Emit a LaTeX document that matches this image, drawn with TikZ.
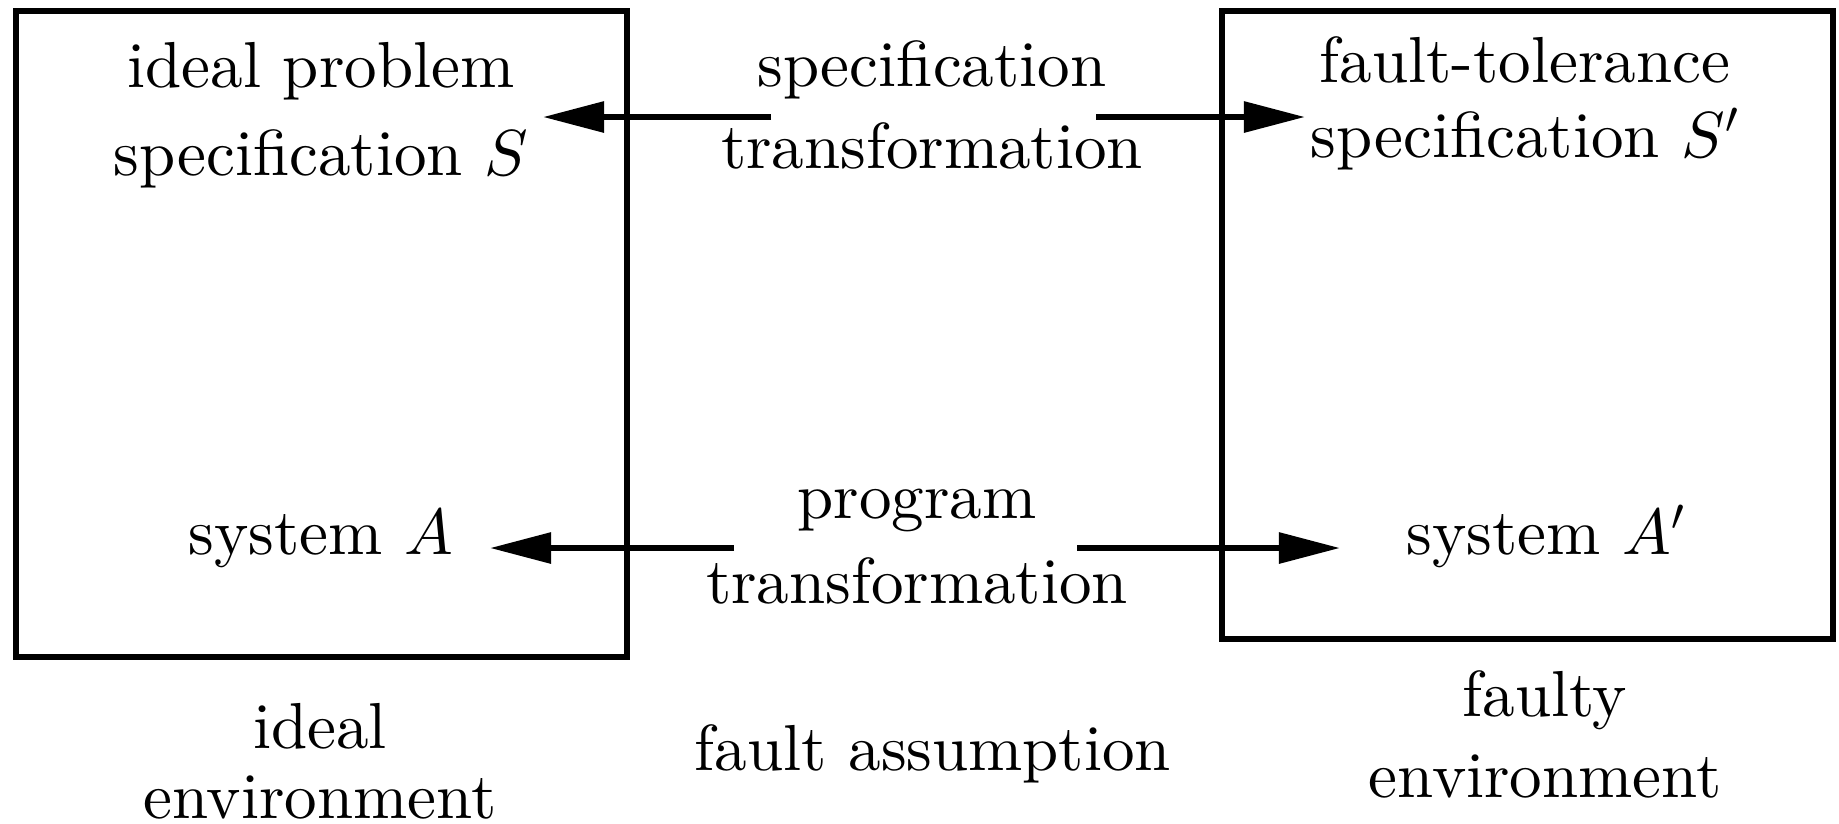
\documentclass[tikz,border=0pt]{standalone}
\usepackage{fontspec}
% 10pt design of Latin Modern, enlarged
\setmainfont{lmroman10-regular.otf}[ItalicFont=lmroman10-italic.otf]
\DeclareFontShape{OML}{cmm}{m}{it}{<->cmmi10}{}
\DeclareFontShape{OMS}{cmsy}{m}{n}{<->cmsy10}{}
\usetikzlibrary{arrows.meta}

\tikzset{
  frame/.style={draw, line width=0.06cm, inner sep=0pt},
  txt/.style={inner sep=0pt, align=center, font=\fontsize{18.5}{#1}\selectfont},
  txt/.default=22pt,
  link/.style={line width=0.06cm, -{Triangle[length=0.61cm,width=0.30cm]}},
}

\begin{document}
\begin{tikzpicture}[x=0.01cm, y=-0.01cm]
\useasboundingbox (0,0) rectangle (1839,823);

% the two environments
\node[frame, minimum width=6.11cm, minimum height=6.46cm] (ideal)  at (321.5,334) {};
\node[frame, minimum width=6.11cm, minimum height=6.28cm] (faulty) at (1527.5,325) {};

% texts inside the boxes
\node[txt=25pt, anchor=north] (specS)  at (321,41)  {\vphantom{f}ideal problem\\specification $S$};
\node[txt=21.2pt, anchor=north] (specS2) at (1525,36) {\vphantom{f}fault-tolerance\\specification $S'$};
\node[txt, anchor=base] (sysA)  at (321,554)  {system $A$};
\node[txt, anchor=base] (sysA2) at (1546,554) {system $A'$};

% transformations between the two sides
\node[txt=23.3pt, anchor=north] (spectr) at (932,40)  {\vphantom{f}specification\\transformation};
\node[txt=24.1pt, anchor=north] (progtr) at (917,472) {\vphantom{f}program\\transformation};

% captions below
\node[txt=20pt, anchor=north] (idealenv)  at (320,702)  {\vphantom{f}ideal\\environment};
\node[txt=23pt, anchor=north] (faultyenv) at (1545,670) {\vphantom{f}faulty\\environment};
\node[txt, anchor=base] (assume) at (933,770) {fault assumption};

% arrow ends
\coordinate (specL0) at (771,117);
\coordinate (specL1) at (543,117);
\coordinate (specR0) at (1096,117);
\coordinate (specR1) at (1305,117);
\coordinate (progL0) at (734,548);
\coordinate (progL1) at (490,548);
\coordinate (progR0) at (1077,548);
\coordinate (progR1) at (1340,548);

\draw[link] (specL0) -- (specL1);
\draw[link] (specR0) -- (specR1);
\draw[link] (progL0) -- (progL1);
\draw[link] (progR0) -- (progR1);
\end{tikzpicture}
\end{document}
